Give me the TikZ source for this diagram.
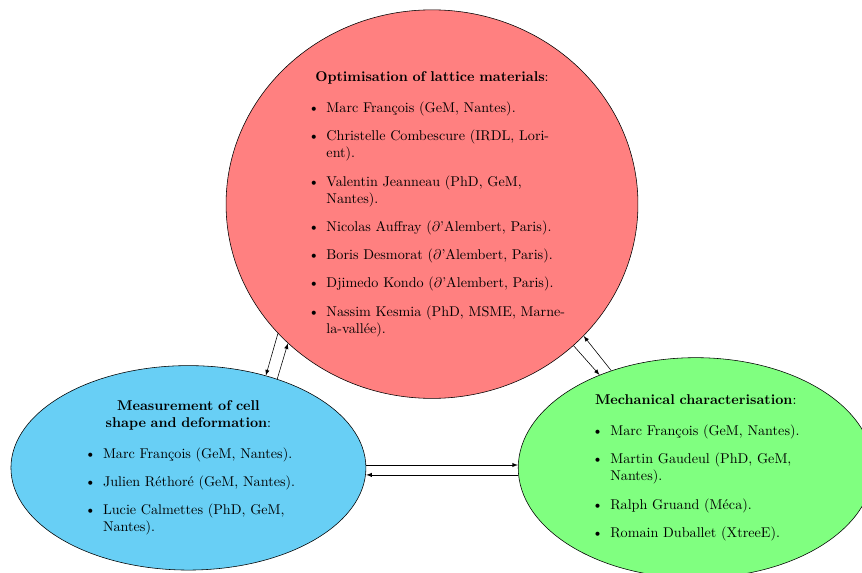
\documentclass[tikz,border=0pt]{standalone}
\usetikzlibrary{arrows}
\usetikzlibrary{shapes.geometric}

\definecolor{skyblue}{RGB}{104,207,245}

\begin{document}
\begin{tikzpicture}[bubble/.style={ellipse, draw, text width=#1, align=left},
 link/.style={->, >=latex}]
\useasboundingbox (0,0) rectangle (21.41,-14.21);
% the three research themes
\node[bubble=7cm, fill=red!50] (optim) at (10.73,-5.07) {%
 {\centering\textbf{Optimisation of lattice materials}:\par}
 \begin{itemize}
 \item Marc François (GeM, Nantes).
 \item Christelle Combescure (IRDL, Lori-\\ent).
 \item Valentin Jeanneau (PhD, GeM, Nantes).
 \item Nicolas Auffray ($\partial$'Alembert, Paris).
 \item Boris Desmorat ($\partial$'Alembert, Paris).
 \item Djimedo Kondo ($\partial$'Alembert, Paris).
 \item Nassim Kesmia (PhD, MSME, Marne-\\la-vallée).
 \end{itemize}};
\node[bubble=6cm, fill=skyblue] (measure) at (4.68,-11.62) {%
 {\centering\textbf{Measurement of cell\\ shape and deformation}:\par}
 \begin{itemize}
 \item Marc François (GeM, Nantes).
 \item Julien Réthoré (GeM, Nantes).
 \item Lucie Calmettes (PhD, GeM, Nantes).
 \end{itemize}};
\node[bubble=6cm, fill=green!50] (mech) at (17.28,-11.62) {%
 {\centering\textbf{Mechanical characterisation}:\par}
 \begin{itemize}
 \item Marc François (GeM, Nantes).
 \item Martin Gaudeul (PhD, GeM, Nantes).
 \item Ralph Gruand (Méca).
 \item Romain Duballet (XtreeE).
 \end{itemize}};
% links
\draw[link] (optim.220) -- (measure.50);
\draw[link] (measure.45) -- (optim.224);
\draw[link] (optim.315) -- (mech.136);
\draw[link] (mech.131) -- (optim.319);
\draw[link] ([yshift=2pt]measure.east) -- ([yshift=2pt]mech.west);
\draw[link] ([yshift=-5pt]mech.west) -- ([yshift=-5pt]measure.east);
\end{tikzpicture}
\end{document}
